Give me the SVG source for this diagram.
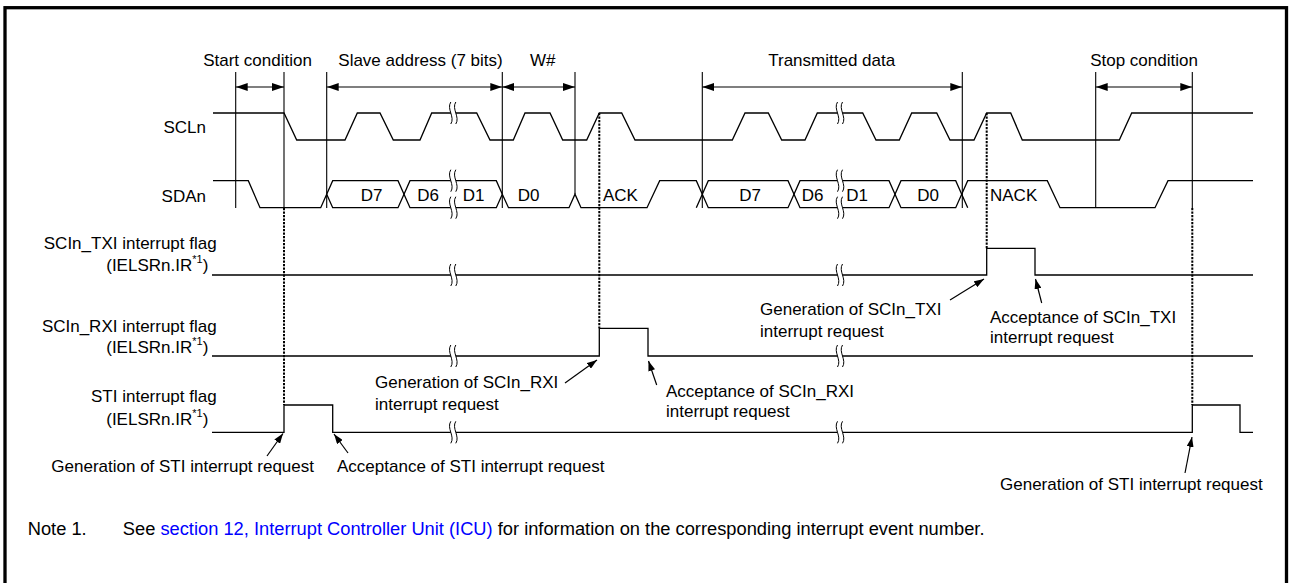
<svg xmlns="http://www.w3.org/2000/svg" width="1290" height="583" viewBox="0 0 1290 583">
<style>
.w{fill:none;stroke:#000;stroke-width:1.3;stroke-linejoin:miter}
.v{fill:none;stroke:#000;stroke-width:1.1}
.d{fill:none;stroke:#000;stroke-width:2;stroke-dasharray:2.2 1.3}
.a{fill:none;stroke:#000;stroke-width:1.2}
.t{font-family:"Liberation Sans",Arial,Helvetica,sans-serif;font-size:17px;fill:#000}
.n{font-family:"Liberation Sans",Arial,Helvetica,sans-serif;font-size:18.3px;fill:#000}
.m{text-anchor:middle}
.e{text-anchor:end}
</style>
<defs>
<marker id="da" viewBox="0 0 12 8" refX="12" refY="4" markerWidth="12" markerHeight="8" markerUnits="userSpaceOnUse" orient="auto-start-reverse"><path d="M0,0 L12,4 L0,8 Z" fill="#000"/></marker>
<marker id="aa" viewBox="0 0 10 7" refX="10" refY="3.5" markerWidth="10" markerHeight="7" markerUnits="userSpaceOnUse" orient="auto"><path d="M0,0 L10,3.5 L0,7 Z" fill="#000"/></marker>
<g id="bk">
<path d="M-2.5,-11 C-7,-4 2,4 -2.5,11 L2.5,11 C7,4 -2,-4 2.5,-11 Z" fill="#fff" stroke="none"/>
<path d="M-2.5,-11 C-7,-4 2,4 -2.5,11 M2.5,-11 C-2,-4 7,4 2.5,11" fill="none" stroke="#000" stroke-width="1"/>
</g>
</defs>
<rect x="0" y="0" width="1290" height="583" fill="#fff"/>
<rect id="frame" x="5" y="7.7" width="1281.5" height="600" fill="none" stroke="#000" stroke-width="3.3"/>

<g id="timing-lines">
<path class="v" d="M235.7,72 V208 M284,72 V208 M326.7,72 V208 M502.3,72 V208 M575,72 V194 M702.3,72 V208 M962.3,72 V208 M1095.7,72 V208 M1192.3,72 V208"/>
<path class="d" d="M284,208 V405 M599.3,113 V328.3 M986.7,113 V248.3 M1192.3,208 V405"/>
</g>

<g id="dimension-arrows">
<line class="a" x1="235.7" y1="87" x2="284" y2="87" marker-start="url(#da)" marker-end="url(#da)"/>
<line class="a" x1="326.7" y1="87" x2="502.3" y2="87" marker-start="url(#da)" marker-end="url(#da)"/>
<line class="a" x1="502.3" y1="87" x2="575" y2="87" marker-start="url(#da)" marker-end="url(#da)"/>
<line class="a" x1="702.3" y1="87" x2="962.3" y2="87" marker-start="url(#da)" marker-end="url(#da)"/>
<line class="a" x1="1095.7" y1="87" x2="1192.3" y2="87" marker-start="url(#da)" marker-end="url(#da)"/>
</g>

<g id="phase-labels">
<text class="t m" x="257.5" y="65.5">Start condition</text>
<text class="t m" x="420.5" y="65.5">Slave address (7 bits)</text>
<text class="t m" x="542.7" y="65.5">W#</text>
<text class="t m" x="831.7" y="65.5">Transmitted data</text>
<text class="t m" x="1144" y="65.5">Stop condition</text>
</g>

<g id="SCLn">
<text class="t e" x="206" y="133.3">SCLn</text>
<path class="w" d="M213,113 H284 L296.7,140 H345 L357.3,113 H380 L393.3,140 H420 L431.7,113 H476.7 L490,140 H513.3 L525,113 H550 L562.7,140 H586.7 L599.3,113 H621.7 L635,140 H732.3 L745,113 H768.3 L781.7,140 H805 L817.3,113 H862.7 L876,140 H899.3 L911.7,113 H936.7 L950,140 H974 L986.7,113 H1010.7 L1022.3,140 H1119.3 L1131.7,113 H1253"/>
<use href="#bk" x="453.3" y="113"/>
<use href="#bk" x="840" y="113"/>
</g>

<g id="SDAn">
<text class="t e" x="206" y="201.7">SDAn</text>
<path class="w" d="M213,180.7 H248.3 L260,207.7 H320.7 L326.7,194.2"/>
<path class="w" d="M326.7,194.2 L332.7,180.7 H398 L404,194.2 L398,207.7 H332.7 Z"/>
<path class="w" d="M404,194.2 L410,180.7 H496.3 L502.3,194.2 L496.3,207.7 H410 Z"/>
<path class="w" d="M502.3,194.2 L508.5,207.7 H569 L575,194.2 L581,207.7 H647 L659.7,180.7 H696.3 L702.3,194.2 M696.3,207.7 L702.3,194.2"/>
<path class="w" d="M702.3,194.2 L708.3,180.7 H788 L794,194.2 L788,207.7 H708.3 Z"/>
<path class="w" d="M794,194.2 L800,180.7 H889 L895,194.2 L889,207.7 H800 Z"/>
<path class="w" d="M895,194.2 L901,180.7 H955.7 L961.7,194.2 L955.7,207.7 H901 Z"/>
<path class="w" d="M961.7,194.2 L967.7,180.7 H1047.3 L1060,207.7 H1155 L1168,180.7 H1253 M961.7,194.2 L967.7,207.7"/>
<use href="#bk" x="453.3" y="180.7"/>
<use href="#bk" x="453.3" y="207.7"/>
<use href="#bk" x="840" y="180.7"/>
<use href="#bk" x="840" y="207.7"/>
<text class="t m" x="371.7" y="200.5">D7</text>
<text class="t m" x="428" y="200.5">D6</text>
<text class="t m" x="473.5" y="200.5">D1</text>
<text class="t m" x="528.5" y="200.5">D0</text>
<text class="t" x="603" y="200.5">ACK</text>
<text class="t m" x="750" y="200.5">D7</text>
<text class="t m" x="812.5" y="200.5">D6</text>
<text class="t m" x="857" y="200.5">D1</text>
<text class="t m" x="928" y="200.5">D0</text>
<text class="t" x="990" y="200.5">NACK</text>
</g>

<g id="TXI-flag">
<text class="t e" x="216.7" y="249">SCIn_TXI interrupt flag</text>
<text class="t e" x="208.3" y="271">(IELSRn.IR<tspan font-size="11" dy="-8">*1</tspan><tspan dy="8">)</tspan></text>
<path class="w" d="M212,275 H986.7 V248.3 H1035 V275 H1253"/>
<use href="#bk" x="453.3" y="275"/>
<use href="#bk" x="840" y="275"/>
</g>

<g id="RXI-flag">
<text class="t e" x="216.7" y="332">SCIn_RXI interrupt flag</text>
<text class="t e" x="208.3" y="353">(IELSRn.IR<tspan font-size="11" dy="-8">*1</tspan><tspan dy="8">)</tspan></text>
<path class="w" d="M212,356 H599.3 V328.3 H648 V356 H1253"/>
<use href="#bk" x="453.3" y="356"/>
<use href="#bk" x="840" y="356"/>
</g>

<g id="STI-flag">
<text class="t e" x="216.7" y="402">STI interrupt flag</text>
<text class="t e" x="208.3" y="425">(IELSRn.IR<tspan font-size="11" dy="-8">*1</tspan><tspan dy="8">)</tspan></text>
<path class="w" d="M212,432.3 H284 V405 H332.7 V432.3 H1192.3 V405 H1240 V432.3 H1253"/>
<use href="#bk" x="453.3" y="432.3"/>
<use href="#bk" x="840" y="432.3"/>
</g>

<g id="annotation-arrows">
<line class="a" x1="267" y1="456" x2="283" y2="433.5" marker-end="url(#aa)"/>
<line class="a" x1="348" y1="453" x2="334" y2="434" marker-end="url(#aa)"/>
<line class="a" x1="565" y1="383" x2="597" y2="360" marker-end="url(#aa)"/>
<line class="a" x1="656.7" y1="385" x2="648.5" y2="361" marker-end="url(#aa)"/>
<line class="a" x1="950" y1="300" x2="984" y2="279" marker-end="url(#aa)"/>
<line class="a" x1="1041.7" y1="303" x2="1035.5" y2="279" marker-end="url(#aa)"/>
<line class="a" x1="1185" y1="473" x2="1192" y2="437" marker-end="url(#aa)"/>
</g>

<g id="annotations">
<text class="t" x="51.3" y="471.5">Generation of STI interrupt request</text>
<text class="t" x="337" y="471.5">Acceptance of STI interrupt request</text>
<text class="t" x="375" y="388.3">Generation of SCIn_RXI</text>
<text class="t" x="375" y="410">interrupt request</text>
<text class="t" x="666" y="396.7">Acceptance of SCIn_RXI</text>
<text class="t" x="666" y="417.3">interrupt request</text>
<text class="t" x="760" y="315">Generation of SCIn_TXI</text>
<text class="t" x="760" y="336.7">interrupt request</text>
<text class="t" x="990" y="323.3">Acceptance of SCIn_TXI</text>
<text class="t" x="990" y="343.3">interrupt request</text>
<text class="t" x="1000" y="490">Generation of STI interrupt request</text>
</g>

<g id="note">
<text class="n" x="27.7" y="535">Note 1.</text>
<text class="n" x="122.8" y="535">See <tspan fill="#0000ff">section 12, Interrupt Controller Unit (ICU)</tspan> for information on the corresponding interrupt event number.</text>
</g>
</svg>
